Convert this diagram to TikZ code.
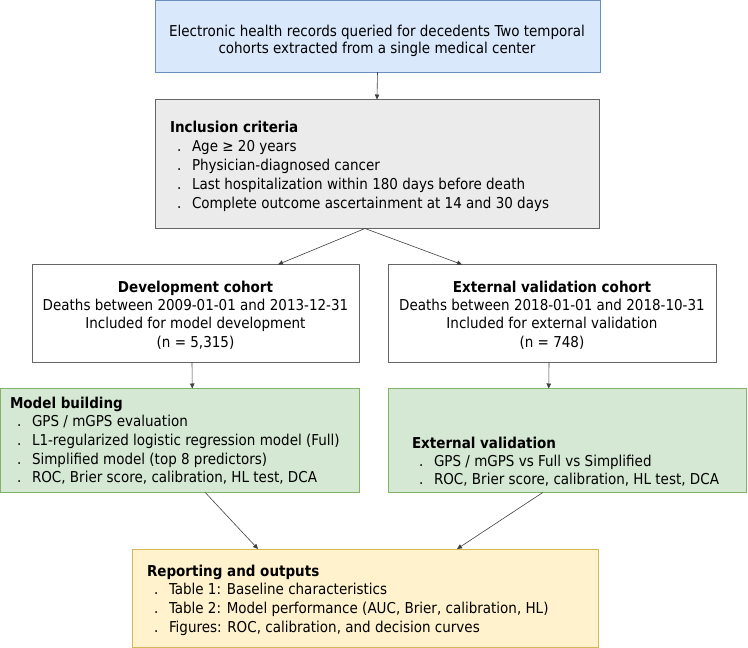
\documentclass[tikz,border=0pt]{standalone}
\usepackage{fontspec}
\setmainfont{DejaVu Sans Condensed}
\usetikzlibrary{arrows.meta,calc}
\newcommand\fs{\fontsize{15}{19}\selectfont}
\newcommand\bl[1]{\makebox[22pt][l]{\hspace*{7pt}.}#1}
\definecolor{blueF}{HTML}{DAE8FC}\definecolor{blueD}{HTML}{6C8EBF}
\definecolor{grayF}{HTML}{EBEBEB}\definecolor{grayD}{HTML}{666666}
\definecolor{greenF}{HTML}{D5E8D4}\definecolor{greenD}{HTML}{82B366}
\definecolor{yelF}{HTML}{FFF2CC}\definecolor{yelD}{HTML}{D6B656}
\begin{document}
\begin{tikzpicture}[x=1pt,y=-1pt,
  box/.style={draw, line width=0.8pt, inner sep=0pt, outer sep=0pt, anchor=north west},
  txt/.style={inner sep=0pt, outer sep=0pt, font=\fs},
  arr/.style={draw=black!75, line width=0.6pt, -{Triangle[length=5pt,width=4.5pt]}}]
\useasboundingbox (0,0) rectangle (748,648);
% boxes
\node[box, fill=blueF, draw=blueD, minimum width=445pt, minimum height=71.5pt] (top) at (155,0.5) {};
\node[box, fill=grayF, draw=grayD, minimum width=444pt, minimum height=129pt] (incl) at (155,99.5) {};
\node[box, fill=white, draw=grayD, minimum width=327pt, minimum height=97.5pt] (dev) at (32,264.5) {};
\node[box, fill=white, draw=grayD, minimum width=328pt, minimum height=97.5pt] (extc) at (388,264.5) {};
\node[box, fill=greenF, draw=greenD, minimum width=358.5pt, minimum height=104pt] (model) at (0.5,388.5) {};
\node[box, fill=greenF, draw=greenD, minimum width=358.5pt, minimum height=104pt] (extv) at (388,388.5) {};
\node[box, fill=yelF, draw=yelD, minimum width=466pt, minimum height=98pt] (rep) at (132,549) {};
% texts
\node[txt, anchor=base] (toptxt) at (377,36) {\def\arraystretch{0.92}\begin{tabular}[t]{@{}c@{}}Electronic health records queried for decedents Two temporal\\cohorts extracted from a single medical center\end{tabular}};
\node[txt, anchor=base west] (incltxt) at (170,132) {\begin{tabular}[t]{@{}l@{}}\textbf{Inclusion criteria}\\
\bl{Age ≥ 20 years}\\
\bl{Physician-diagnosed cancer}\\
\bl{Last hospitalization within 180 days before death}\\
\bl{Complete outcome ascertainment at 14 and 30 days}\end{tabular}};
\node[txt, anchor=base] (devtxt) at (195.5,292) {\def\arraystretch{0.97}\begin{tabular}[t]{@{}c@{}}\textbf{Development cohort}\\
Deaths between 2009-01-01 and 2013-12-31\\
Included for model development\\
(n = 5,315)\end{tabular}};
\node[txt, anchor=base] (extctxt) at (552,292) {\def\arraystretch{0.97}\begin{tabular}[t]{@{}c@{}}\textbf{External validation cohort}\\
Deaths between 2018-01-01 and 2018-10-31\\
Included for external validation\\
(n = 748)\end{tabular}};
\node[txt, anchor=base west] (modeltxt) at (10,408) {\def\arraystretch{0.985}\begin{tabular}[t]{@{}l@{}}\textbf{Model building}\\
\bl{GPS / mGPS evaluation}\\
\bl{L1-regularized logistic regression model (Full)}\\
\bl{Simplified model (top 8 predictors)}\\
\bl{ROC, Brier score, calibration, HL test, DCA}\end{tabular}};
\node[txt, anchor=base west] (extvtxt) at (412,448) {\def\arraystretch{0.96}\begin{tabular}[t]{@{}l@{}}\textbf{External validation}\\
\bl{GPS / mGPS vs Full vs Simplified}\\
\bl{ROC, Brier score, calibration, HL test, DCA}\end{tabular}};
\node[txt, anchor=base west] (reptxt) at (147,576) {\def\arraystretch{0.985}\begin{tabular}[t]{@{}l@{}}\textbf{Reporting and outputs}\\
\bl{Table 1: Baseline characteristics}\\
\bl{Table 2: Model performance (AUC, Brier, calibration, HL)}\\
\bl{Figures: ROC, calibration, and decision curves}\end{tabular}};
% connectors
\coordinate (split) at (365,228.5);
\draw[arr] (top.south) -- (incl.north);
\draw[arr] (split) -- ([xshift=82.5pt]dev.north);
\draw[arr] (split) -- ([xshift=-90pt]extc.north);
\draw[arr] ([xshift=-3.5pt]dev.south) -- ([xshift=12.5pt]model.north);
\draw[arr] ([xshift=-3pt]extc.south) -- ([xshift=-18.5pt]extv.north);
\draw[arr] ([xshift=25.5pt]model.south) -- ([xshift=-107pt]rep.north);
\draw[arr] ([xshift=-24.5pt]extv.south) -- ([xshift=92pt]rep.north);
\end{tikzpicture}
\end{document}
